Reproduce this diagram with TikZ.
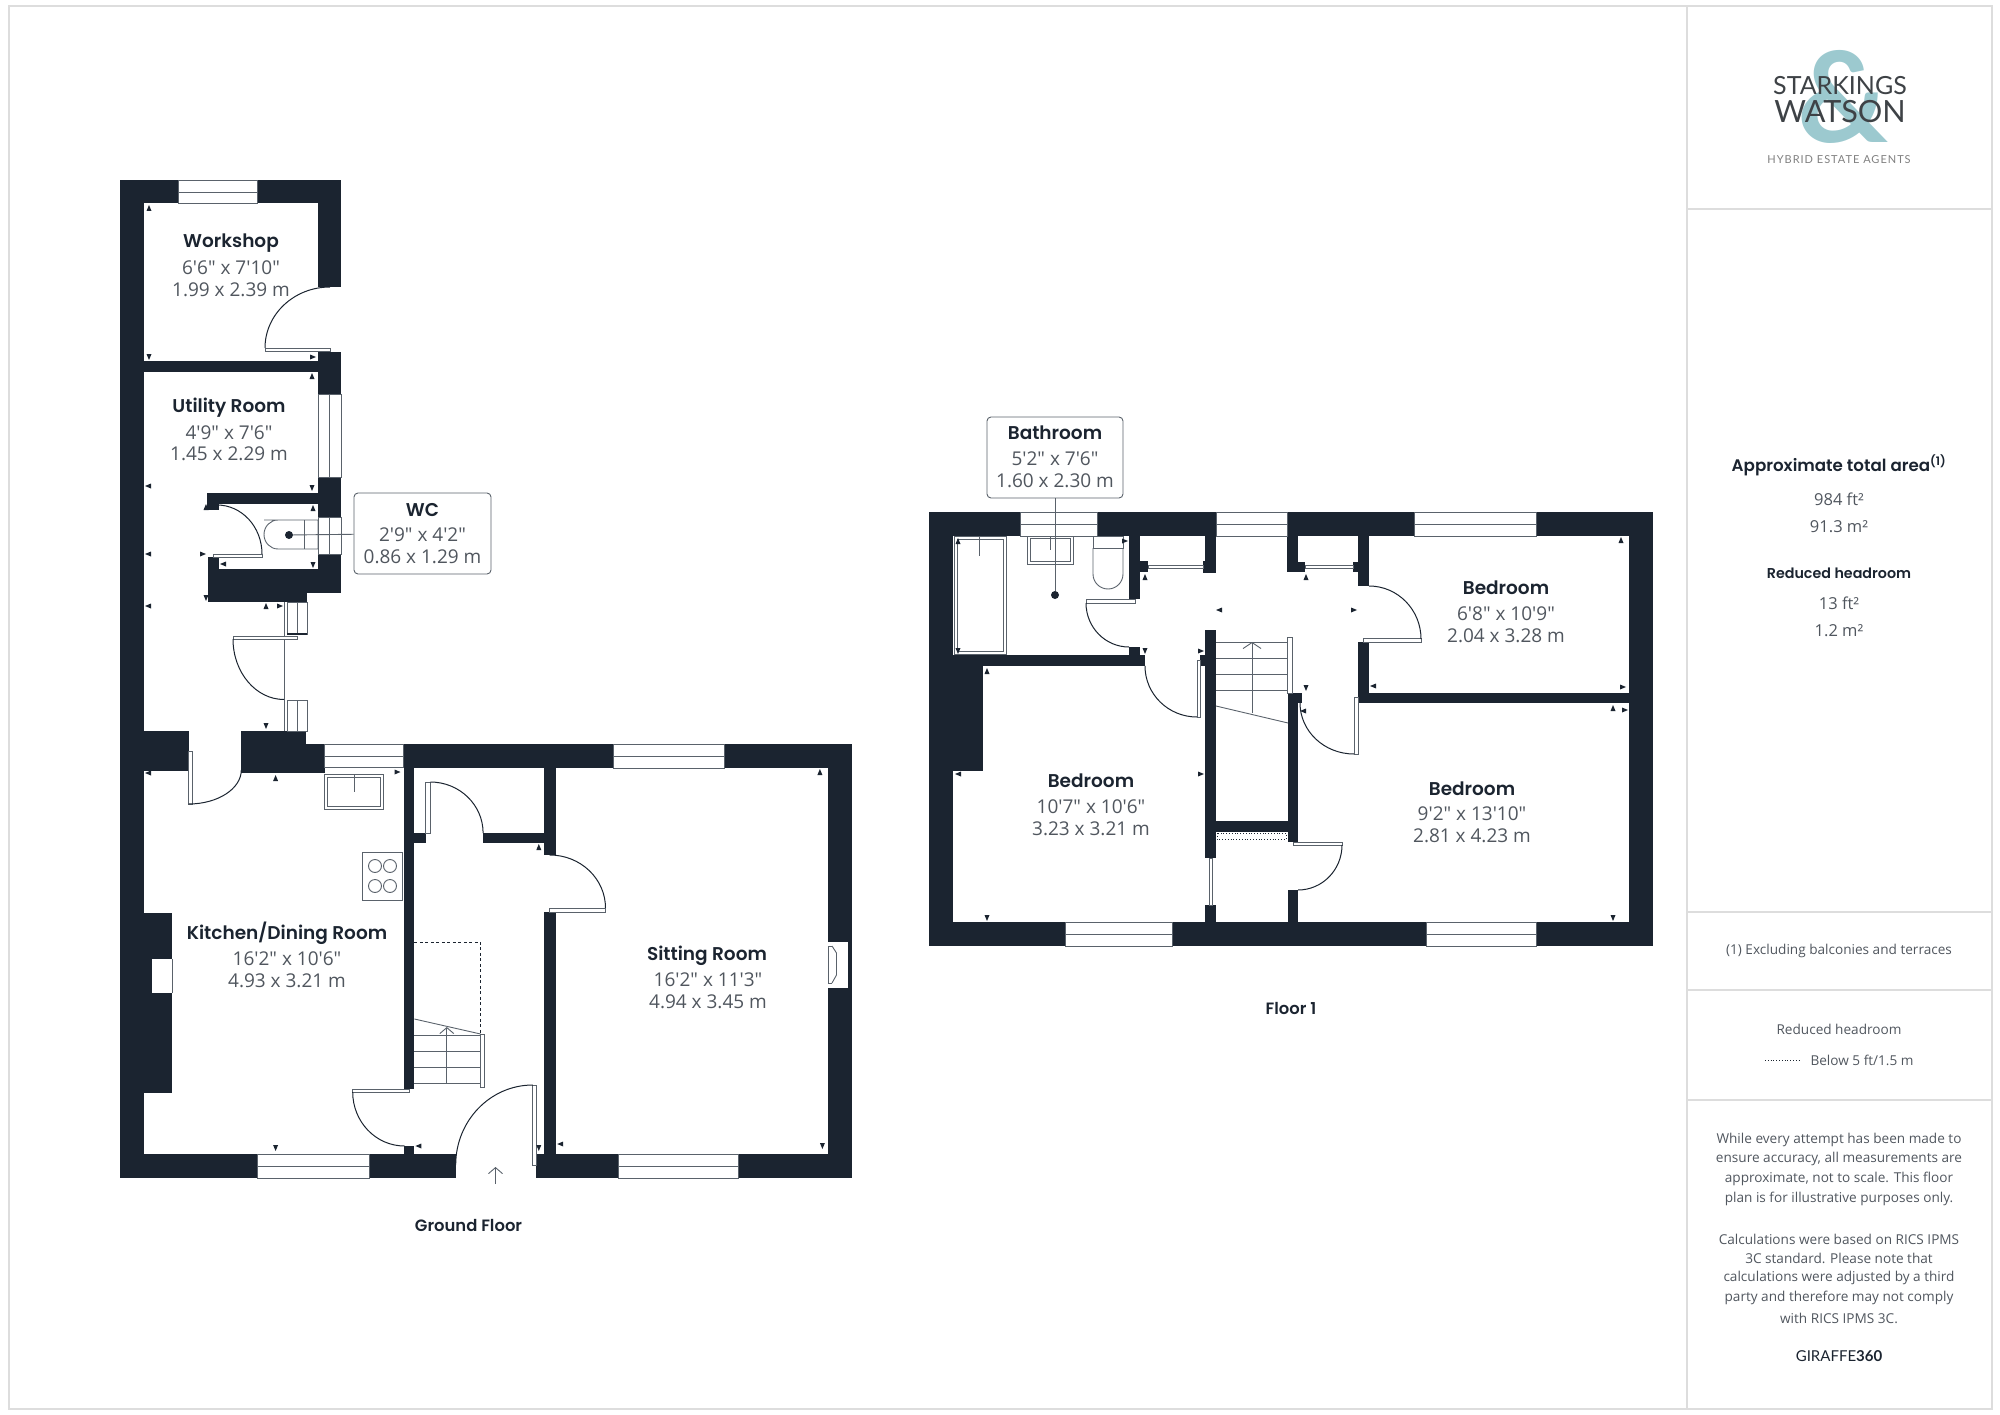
\documentclass[tikz,border=0pt]{standalone}
\usepackage{fontspec}
\usepackage{tikz}
\usetikzlibrary{arrows.meta}
\newfontfamily\dimfont{Open Sans}
\newfontfamily\titlefont{Poppins}[BoldFont={Poppins SemiBold}]
\newfontfamily\logofont{Lato}
\newfontfamily\hybridfont{Lato}[LetterSpace=9]
\definecolor{wallblue}{HTML}{1B2430}
\definecolor{linegray}{HTML}{5A626B}
\definecolor{dimgray}{HTML}{50565E}
\definecolor{framegray}{HTML}{DDDDDD}
\definecolor{logoteal}{HTML}{9CC9CF}
\definecolor{logodark}{HTML}{3E4246}
\tikzset{
  wall/.style={fill=wallblue},
  thinline/.style={draw=linegray,line width=0.9pt},
  leaf/.style={thinline,fill=white},
  swing/.style={draw=wallblue,line width=1pt},
  framed/.style={draw=framegray,line width=1.4pt},
  roomtitle/.style={font=\titlefont\bfseries\fontsize{18.5}{22}\selectfont,text=wallblue,inner sep=0pt},
  roomdim/.style={font=\dimfont\fontsize{19}{22}\selectfont,text=dimgray,inner sep=0pt},
  paneltext/.style={font=\dimfont\fontsize{13.6}{19}\selectfont,text=dimgray,inner sep=0pt},
  callout/.style={thinline,fill=white,rounded corners=4pt,minimum width=#1,inner sep=0pt},
  leaderdot/.style={circle,fill=wallblue,minimum size=8pt,inner sep=0pt},
  tickU/.pic={\fill[wallblue] (-2.5,3) -- (2.5,3) -- (0,-3) -- cycle;},
  tickD/.pic={\fill[wallblue] (-2.5,-3) -- (2.5,-3) -- (0,3) -- cycle;},
  tickL/.pic={\fill[wallblue] (3,-2.5) -- (3,2.5) -- (-3,0) -- cycle;},
  tickR/.pic={\fill[wallblue] (-3,-2.5) -- (-3,2.5) -- (3,0) -- cycle;}
}
\begin{document}
\begin{tikzpicture}[x=1pt,y=-1pt]
\useasboundingbox (0,0) rectangle (2000,1415);

% frame and side panel
\draw[framed] (9,6) rectangle (1992,1409);
\draw[framed] (1687,6) -- (1687,1409);
\draw[framed] (1687,209) -- (1992,209);
\draw[framed] (1687,912) -- (1992,912);
\draw[framed] (1687,990) -- (1992,990);
\draw[framed] (1687,1100) -- (1992,1100);

% logo
\node[inner sep=0pt,text=logoteal,font=\logofont\bfseries\fontsize{126}{126}\selectfont] (ampersand) at (1843,97) {\&};
\node[inner sep=0pt,text=logodark,font=\logofont\fontsize{25}{28}\selectfont] (starkings) at (1840,86) {STARKINGS};
\node[inner sep=0pt,text=logodark,font=\logofont\fontsize{30.6}{32}\selectfont] (watson) at (1840,112) {WATSON};
\node[inner sep=0pt,text=gray,font=\hybridfont\fontsize{11}{14}\selectfont] (hybrid) at (1839,160) {HYBRID ESTATE AGENTS};

% ground floor walls
\fill[wall] (120,180.5) rectangle (144,1178);
\fill[wall] (144,180.5) rectangle (178,203.5);
\fill[wall] (257,180.5) rectangle (341,203.5);
\fill[wall] (318,203.5) rectangle (341,287);
\fill[wall] (144,361) rectangle (318,372);
\fill[wall] (318,352) rectangle (341,394);
\fill[wall] (318,477) rectangle (341,517);
\fill[wall] (318,554) rectangle (341,593);
\fill[wall] (207,493) rectangle (318,503.5);
\fill[wall] (207,503.5) rectangle (219,510);
\fill[wall] (208,557) rectangle (219,569);
\fill[wall] (208,569) rectangle (318,593);
\fill[wall] (208,593) rectangle (307,602);
\fill[wall] (144,731) rectangle (188.6,771);
\fill[wall] (241.3,731) rectangle (306,773);
\fill[wall] (306,744) rectangle (324.9,773);
\fill[wall] (144,913) rectangle (172,1093);
\fill[white] (152.2,959) rectangle (172,993);
\draw[thinline] (172,959) -- (172,993);
\fill[wall] (144,1154) rectangle (257.2,1178);
\fill[wall] (369.6,1154) rectangle (455.7,1178);
\fill[wall] (536.3,1154) rectangle (618.9,1178);
\fill[wall] (738.8,1154) rectangle (852.2,1178);
\fill[wall] (403.5,744) rectangle (613.4,768);
\fill[wall] (724.4,744) rectangle (852.2,768);
\fill[wall] (827.9,768) rectangle (852.2,1154);
\fill[wall] (403.5,768) rectangle (414.4,1089);
\fill[wall] (403.5,1146) rectangle (414.4,1154);
\fill[wall] (544.3,768) rectangle (555.7,855);
\fill[wall] (544.3,912) rectangle (555.7,1154);
\fill[wall] (483.1,833) rectangle (544.3,843);
\fill[wall] (414.4,833) rectangle (425.9,843);

% ground floor windows
\draw[thinline] (178,180.5) rectangle (257,203.5);
\draw[thinline] (178,192.4) -- (257,192.4);
\draw[thinline] (318,394) rectangle (341,477);
\draw[thinline] (329,394) -- (329,477);
\draw[thinline] (318,517) rectangle (341,554);
\draw[thinline] (329,517) -- (329,554);
\draw[thinline] (324.9,744) rectangle (403.5,767);
\draw[thinline] (324.9,756) -- (403.5,756);
\draw[thinline] (613.4,744) rectangle (724.4,768);
\draw[thinline] (613.4,756) -- (724.4,756);
\draw[thinline] (257.2,1154) rectangle (369.6,1178);
\draw[thinline] (257.2,1166) -- (369.6,1166);
\draw[thinline] (618.9,1154) rectangle (738.8,1178);
\draw[thinline] (618.9,1166) -- (738.8,1166);
\draw[thinline] (287,602) rectangle (307,634);
\draw[thinline] (297,602) -- (297,634);
\draw[wallblue,line width=2pt] (287,634) -- (307,634);
\draw[thinline] (287,700) rectangle (307,731);
\draw[thinline] (297,700) -- (297,731);
\draw[thinline] (284,602) -- (284,731);
\fill[white] (827.9,942) rectangle (848,988);
\draw[thinline] (832,946) -- (828,946) -- (828,983) -- (832,983);
\draw[thinline] (832,946) -- (836.5,953) -- (836.5,975) -- (832,983);

% ground floor doors
\draw[leaf] (265,348) rectangle (330,351);
\draw[swing] (265,348) arc[start angle=180,end angle=90,x radius=65pt,y radius=61pt];
\draw[leaf] (213,554) rectangle (262,557);
\draw[swing] (262,554) arc[start angle=0,end angle=90,x radius=45pt,y radius=49pt];
\draw[leaf] (233,636) rectangle (297,639);
\draw[swing] (233,639) arc[start angle=180,end angle=270,x radius=51pt,y radius=60.5pt];
\draw[leaf] (188.6,751) rectangle (192.5,804);
\draw[swing] (188.6,804) arc[start angle=270,end angle=360,x radius=52.7pt,y radius=34pt];
\draw[leaf] (425.9,782) rectangle (430.8,833);
\draw[swing] (430.3,782) arc[start angle=90,end angle=0,x radius=52.8pt,y radius=51pt];
\draw[leaf] (549.7,908) rectangle (605.5,912);
\draw[swing] (549.7,855) arc[start angle=90,end angle=0,x radius=55.8pt,y radius=53pt];
\draw[leaf] (352.7,1089) rectangle (409.5,1092);
\draw[swing] (352.7,1092) arc[start angle=180,end angle=270,x radius=51.8pt,y radius=54pt];
\draw[leaf] (532.8,1085) rectangle (536.3,1165);
\draw[swing] (532.8,1085) arc[start angle=90,end angle=180,x radius=77.1pt,y radius=80pt];

% ground floor fittings
\draw[thinline] (264,520) -- (318,520) -- (318,549) -- (278,549) arc[start angle=270,end angle=90,x radius=14pt,y radius=14.5pt];
\draw[thinline] (304,520) -- (304,549);
\draw[thinline] (324.9,774) rectangle (383.6,809);
\draw[thinline] (327.9,777) rectangle (380.6,806);
\draw[thinline] (354.7,774) -- (354.7,792);
\draw[thinline] (362.2,852) rectangle (402.5,900);
\draw[thinline] (375,866) circle (6.5);
\draw[thinline] (390,866) circle (6.5);
\draw[thinline] (375,886) circle (6.5);
\draw[thinline] (390,886) circle (6.5);
\draw[wallblue,line width=1pt,dashed,dash pattern=on 3pt off 2.5pt] (414.4,942) -- (480.6,942) -- (480.6,1034);
\draw[thinline] (414.4,1019) -- (480.6,1034);
\draw[thinline] (414.4,1035) -- (480.6,1035);
\draw[thinline] (414.4,1051) -- (480.6,1051);
\draw[thinline] (414.4,1067) -- (480.6,1067);
\draw[thinline] (414.4,1083) -- (480.6,1083);
\draw[leaf] (480.6,1034) rectangle (484,1087);
\draw[thinline,-{Straight Barb[length=6pt,width=14pt]}] (446.8,1083) -- (446.8,1027);
\draw[thinline,-{Straight Barb[length=6pt,width=14pt]}] (495.5,1184) -- (495.5,1167);

% ground floor labels
\node[roomtitle] (workshop) at (231,243.5) {Workshop};
\node[roomdim] (workshopft) at (231,268) {6'6" x 7'10"};
\node[roomdim] (workshopm) at (231,290) {1.99 x 2.39 m};
\node[roomtitle] (utility) at (229,408) {Utility Room};
\node[roomdim] (utilityft) at (229,433) {4'9" x 7'6"};
\node[roomdim] (utilitym) at (229,454) {1.45 x 2.29 m};
\node[roomtitle] (kitchen) at (287,933.5) {Kitchen/Dining Room};
\node[roomdim] (kitchenft) at (287,959) {16'2" x 10'6"};
\node[roomdim] (kitchenm) at (287,981) {4.93 x 3.21 m};
\node[roomtitle] (sitting) at (707,956) {Sitting Room};
\node[roomdim] (sittingft) at (708,980) {16'2" x 11'3"};
\node[roomdim] (sittingm) at (708,1002) {4.94 x 3.45 m};
\node[inner sep=0pt,text=wallblue,font=\titlefont\bfseries\fontsize{16.4}{18}\selectfont] (groundfloor) at (468.5,1225) {Ground Floor};

% wc callout
\node[callout=137pt,minimum height=81pt] (wcbox) at (422.5,533.5) {};
\node[leaderdot] (wcdot) at (289,535) {};
\draw[thinline] (wcdot) -- (wcbox);
\node[roomtitle] (wc) at (422.5,510) {WC};
\node[roomdim] (wcft) at (422.5,535) {2'9" x 4'2"};
\node[roomdim] (wcm) at (422.5,557) {0.86 x 1.29 m};

% floor 1 walls
\fill[wall] (929,512) rectangle (953,946);
\fill[wall] (953,512) rectangle (1020,536);
\fill[wall] (1097,512) rectangle (1216,536);
\fill[wall] (1287,512) rectangle (1414,536);
\fill[wall] (1536,512) rectangle (1653,536);
\fill[wall] (1629,536) rectangle (1653,946);
\fill[wall] (953,922) rectangle (1065,946);
\fill[wall] (1172,922) rectangle (1426,946);
\fill[wall] (1536,922) rectangle (1629,946);
\fill[wall] (1129,536) rectangle (1140,599);
\fill[wall] (1129,647) rectangle (1140,655);
\fill[wall] (953,655) rectangle (1145,666);
\fill[wall] (953,666) rectangle (983,771);
\fill[wall] (1205,536) rectangle (1216,572.5);
\fill[wall] (1203,561) rectangle (1205,572.5);
\fill[wall] (1140,561) rectangle (1148,572);
\fill[wall] (1287,536) rectangle (1298,572);
\fill[wall] (1298,562) rectangle (1305,572);
\fill[wall] (1353,562) rectangle (1358,572);
\fill[wall] (1358,536) rectangle (1369,586);
\fill[wall] (1358,642) rectangle (1369,693);
\fill[wall] (1358,693) rectangle (1629,703);
\fill[wall] (1205,630) rectangle (1216,858);
\fill[wall] (1200,655) rectangle (1206,666);
\fill[wall] (1205,905) rectangle (1216,922);
\fill[wall] (1288,693) rectangle (1298,842);
\fill[wall] (1298,693) rectangle (1302,703);
\fill[wall] (1288,890) rectangle (1298,922);
\fill[wall] (1216,821) rectangle (1288,832);

% floor 1 windows
\draw[thinline] (1020,512) rectangle (1097,536);
\draw[thinline] (1020,524) -- (1097,524);
\draw[thinline] (1216,512) rectangle (1287,536);
\draw[thinline] (1216,524) -- (1287,524);
\draw[thinline] (1414,512) rectangle (1536,536);
\draw[thinline] (1414,524) -- (1536,524);
\draw[thinline] (1065,922) rectangle (1172,946);
\draw[thinline] (1065,934) -- (1172,934);
\draw[thinline] (1426,922) rectangle (1536,946);
\draw[thinline] (1426,934) -- (1536,934);

% floor 1 doors
\draw[leaf] (1086,599) rectangle (1135,603);
\draw[swing] (1086,603) arc[start angle=180,end angle=270,x radius=43pt,y radius=44pt];
\draw[leaf] (1197,660) rectangle (1200,717);
\draw[swing] (1145,666) arc[start angle=180,end angle=270,x radius=52pt,y radius=51pt];
\draw[leaf] (1363,638) rectangle (1421,642);
\draw[swing] (1369,586) arc[start angle=90,end angle=0,x radius=52pt,y radius=53pt];
\draw[leaf] (1354,697) rectangle (1358,754);
\draw[swing] (1300,703) arc[start angle=180,end angle=270,x radius=54pt,y radius=51pt];
\draw[leaf] (1293,842) rectangle (1342,845);
\draw[swing] (1342,845) arc[start angle=0,end angle=-90,x radius=44pt,y radius=45pt];
\draw[leaf] (1148,565) rectangle (1203,568);
\draw[leaf] (1305,565) rectangle (1353,568);
\draw[leaf] (1209,858) rectangle (1212,905);

% floor 1 fittings
\draw[thinline] (954,536) rectangle (1006,654);
\draw[thinline] (957,539) rectangle (1003,651);
\draw[thinline] (979,536) -- (979,556);
\draw[thinline] (1027,536) rectangle (1073,564);
\draw[thinline] (1030,538) rectangle (1070,561);
\draw[thinline] (1050,536) -- (1050,550);
\draw[thinline] (1093,536) rectangle (1123,548);
\draw[thinline] (1093,548) -- (1093,574) arc[start angle=180,end angle=360,x radius=15pt,y radius=15pt] -- (1123,548);
\draw[wallblue,line width=0.8pt,dotted] (1217,833) rectangle (1286,839);
\draw[thinline] (1216,706) -- (1288,723);
\draw[thinline] (1216,642) -- (1288,642);
\draw[thinline] (1216,658) -- (1288,658);
\draw[thinline] (1216,674) -- (1288,674);
\draw[thinline] (1216,690) -- (1288,690);
\draw[leaf] (1287,637) rectangle (1292,693);
\draw[thinline,-{Straight Barb[length=6pt,width=18pt]}] (1252,713) -- (1252,642);

% floor 1 labels
\node[roomtitle] (bedrooma) at (1091,781) {Bedroom};
\node[roomdim] (bedroomaft) at (1091,807) {10'7" x 10'6"};
\node[roomdim] (bedroomam) at (1091,829) {3.23 x 3.21 m};
\node[roomtitle] (bedroomb) at (1506,588) {Bedroom};
\node[roomdim] (bedroombft) at (1506,614) {6'8" x 10'9"};
\node[roomdim] (bedroombm) at (1506,636) {2.04 x 3.28 m};
\node[roomtitle] (bedroomc) at (1472,789) {Bedroom};
\node[roomdim] (bedroomcft) at (1472,814) {9'2" x 13'10"};
\node[roomdim] (bedroomcm) at (1472,836) {2.81 x 4.23 m};
\node[inner sep=0pt,text=wallblue,font=\titlefont\bfseries\fontsize{16.4}{18}\selectfont] (firstfloor) at (1291,1008) {Floor 1};

% bathroom callout
\node[callout=136pt,minimum height=81pt] (bathbox) at (1055,457.5) {};
\node[leaderdot] (bathdot) at (1055,595) {};
\draw[thinline] (bathdot) -- (bathbox);
\node[roomtitle] (bath) at (1055,433) {Bathroom};
\node[roomdim] (bathft) at (1055,459) {5'2" x 7'6"};
\node[roomdim] (bathm) at (1055,481) {1.60 x 2.30 m};

% ticks
\pic at (149,208) {tickU}; \pic at (149,357) {tickD}; \pic at (313,357) {tickR};
\pic at (312,376) {tickU}; \pic at (148,486) {tickL}; \pic at (148,554) {tickL};
\pic at (148,606) {tickL}; \pic at (312,488) {tickD}; \pic at (206,507) {tickU};
\pic at (313,508) {tickU}; \pic at (203,554) {tickR}; \pic at (223,564) {tickL};
\pic at (313,565) {tickD}; \pic at (206,598) {tickD}; \pic at (266,606) {tickU};
\pic at (280,606) {tickR}; \pic at (266,726) {tickD}; \pic at (275.6,778) {tickU};
\pic at (397.5,772) {tickR}; \pic at (148,773) {tickL}; \pic at (275.6,1148) {tickD};
\pic at (418.4,1146) {tickL}; \pic at (538.8,847) {tickU}; \pic at (538.8,1148) {tickD};
\pic at (560.2,1144) {tickL}; \pic at (819.9,772) {tickU}; \pic at (822.4,1146) {tickD};
\pic at (958,541) {tickU}; \pic at (958,651) {tickD}; \pic at (1125,541) {tickR};
\pic at (1145,577) {tickU}; \pic at (1306,577) {tickU}; \pic at (1219,610) {tickL};
\pic at (1354,610) {tickR}; \pic at (1145,651) {tickD}; \pic at (987,671) {tickU};
\pic at (1201,651) {tickR}; \pic at (1201,774) {tickR}; \pic at (958,774) {tickL};
\pic at (987,918) {tickD}; \pic at (1306,688) {tickD}; \pic at (1303,711) {tickL};
\pic at (1373,686) {tickL}; \pic at (1621,540) {tickU}; \pic at (1623,687) {tickR};
\pic at (1613,708) {tickU}; \pic at (1625,710) {tickR}; \pic at (1613,918) {tickD};

% side panel texts
\node[inner sep=0pt,text=wallblue,font=\titlefont\bfseries\fontsize{16.7}{18}\selectfont] (totalarea) at (1839,465.5) {Approximate total area\textsuperscript{(1)}};
\node[paneltext,font=\dimfont\fontsize{16.5}{19}\selectfont] (totalft) at (1839,499) {984 ft²};
\node[paneltext,font=\dimfont\fontsize{16.5}{19}\selectfont] (totalm) at (1839,527) {91.3 m²};
\node[inner sep=0pt,text=wallblue,font=\titlefont\bfseries\fontsize{14.3}{16}\selectfont] (reduced) at (1839,573) {Reduced headroom};
\node[paneltext,font=\dimfont\fontsize{16.5}{19}\selectfont] (reducedft) at (1839,603) {13 ft²};
\node[paneltext,font=\dimfont\fontsize{16.5}{19}\selectfont] (reducedm) at (1839,631) {1.2 m²};
\node[paneltext] (excluding) at (1839,951) {(1) Excluding balconies and terraces};
\node[paneltext] (headroom) at (1839,1029) {Reduced headroom};
\draw[wallblue,line width=0.8pt,dotted] (1765,1060) -- (1799,1060);
\node[paneltext] (below) at (1862,1060) {Below 5 ft/1.5 m};
\node[paneltext] (whilea) at (1839,1140) {While every attempt has been made to};
\node[paneltext] (whileb) at (1839,1159) {ensure accuracy, all measurements are};
\node[paneltext] (whilec) at (1839,1179) {approximate, not to scale. This floor};
\node[paneltext] (whiled) at (1839,1199) {plan is for illustrative purposes only.};
\node[paneltext] (calca) at (1839,1239) {Calculations were based on RICS IPMS};
\node[paneltext] (calcb) at (1839,1258) {3C standard. Please note that};
\node[paneltext] (calcc) at (1839,1278) {calculations were adjusted by a third};
\node[paneltext] (calcd) at (1839,1298) {party and therefore may not comply};
\node[paneltext] (calce) at (1839,1318) {with RICS IPMS 3C.};
\node[inner sep=0pt,text=wallblue,font=\fontsize{15}{18}\selectfont\logofont] (giraffe) at (1839,1356) {GIRAFFE{\bfseries 360}};
\end{tikzpicture}
\end{document}
